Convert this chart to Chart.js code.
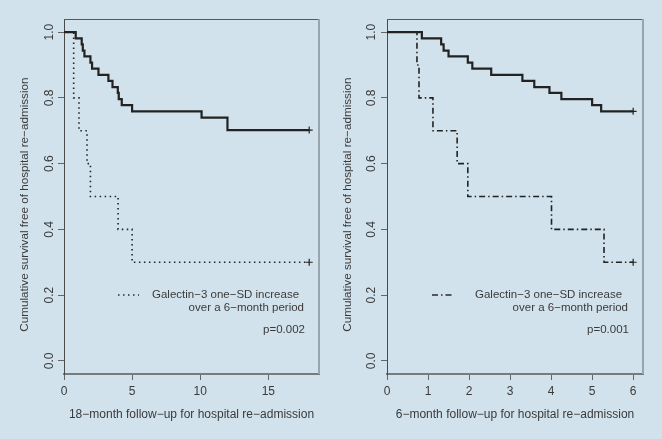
<!DOCTYPE html>
<html>
<head>
<meta charset="utf-8">
<script src="https://cdn.jsdelivr.net/npm/chart.js@4.4.1/dist/chart.umd.min.js"></script>
<style>
  html, body { margin: 0; padding: 0; background: #d2e2ec; }
  #wrap { position: relative; width: 662px; height: 439px; }
  .panel { position: absolute; top: 0; width: 331px; height: 439px; }
</style>
</head>
<body>
<div id="wrap">
  <div class="panel" style="left:0"><canvas id="left" width="331" height="439"></canvas></div>
  <div class="panel" style="left:331px"><canvas id="right" width="331" height="439"></canvas></div>
</div>
<script>
// left panel: 18-month follow-up
const longTimesRef = [0, 0.86, 1.3, 1.38, 1.5, 1.94, 2.06, 2.53, 3.26, 3.56, 3.95, 4.02, 4.24, 5.0, 10.1, 12.0, 18];
const longSurvRef  = [1, 0.981, 0.963, 0.944, 0.926, 0.907, 0.889, 0.870, 0.852, 0.833, 0.815, 0.796, 0.778, 0.759, 0.740, 0.702, 0.702];
const longTimesInc = [0, 0.71, 1.1, 1.69, 1.94, 3.97, 5.0, 18];
const longSurvInc  = [1, 0.8, 0.7, 0.6, 0.5, 0.4, 0.3, 0.3];
const longXTicks = [0, 5, 10, 15];

// right panel: 6-month follow-up
const shortTimesRef = [0, 0.85, 1.32, 1.38, 1.5, 1.97, 2.08, 2.54, 3.30, 3.59, 3.96, 4.25, 5.0, 5.22, 6];
const shortSurvRef  = [1, 0.981, 0.963, 0.944, 0.926, 0.907, 0.889, 0.870, 0.852, 0.833, 0.815, 0.796, 0.778, 0.759, 0.759];
const shortTimesInc = [0, 0.73, 0.78, 1.12, 1.71, 1.97, 4.01, 5.29, 6];
const shortSurvInc  = [1, 0.9, 0.8, 0.7, 0.6, 0.5, 0.4, 0.3, 0.3];
const shortXTicks = [0, 1, 2, 3, 4, 5, 6];

const yTicks = [0, 0.2, 0.4, 0.6, 0.8, 1.0];
// trailing nbsp's push the rotated title a bit lower, like the original
const yTitle = 'Cumulative survival free of hospital re\u2212admission' + '\u00a0'.repeat(5);
const legendLine1 = 'Galectin\u22123 one\u2212SD increase';
const legendLine2 = 'over a 6\u2212month period';

const txt = '#3a3a3a';
const fontFam = '"Liberation Sans", Arial, sans-serif';

const kmLegend = {
    id: 'kmLegend',
    afterDraw(chart, args, o) {
        const ctx = chart.ctx;
        const a = chart.chartArea;
        ctx.save();
        // box: top and right edges
        ctx.strokeStyle = '#4f5a62';
        ctx.lineWidth = 1;
        ctx.beginPath();
        ctx.moveTo(a.left, a.top + 0.5);
        ctx.lineTo(a.right, a.top + 0.5);
        ctx.stroke();
        ctx.strokeStyle = '#98a5ae';
        ctx.lineWidth = 2;
        ctx.beginPath();
        ctx.moveTo(a.right, a.top);
        ctx.lineTo(a.right, a.bottom);
        ctx.stroke();

        // legend sample + text
        ctx.strokeStyle = '#2a2a2a';
        ctx.lineWidth = 1.5;
        ctx.setLineDash(o.dash);
        ctx.beginPath();
        ctx.moveTo(a.left + o.sampleX, 295);
        ctx.lineTo(a.left + o.sampleX + 21, 295);
        ctx.stroke();
        ctx.setLineDash([]);
        ctx.fillStyle = txt;
        ctx.font = '11.5px ' + fontFam;
        ctx.textBaseline = 'middle';
        ctx.textAlign = 'left';
        ctx.fillText(legendLine1, a.left + o.textX, 294.5);
        ctx.textAlign = 'right';
        ctx.fillText(legendLine2, a.right - 15, 308);
        ctx.fillText(o.pText, a.right - 14, 330);
        ctx.restore();
    }
};

function makeChart(id, c) {
    const pts = (t, s) => t.map((x, i) => ({ x: x, y: s[i] }));
    const censor = ctx => ctx.dataIndex === ctx.dataset.data.length - 1 ? 3.5 : 0;
    return new Chart(document.getElementById(id), {
        type: 'line',
        data: {
            datasets: [{
                data: pts(c.refT, c.refS),
                stepped: true,
                borderColor: '#222',
                borderWidth: 2.2,
                pointStyle: 'cross',
                pointRadius: censor,
                pointBorderWidth: 1.2,
                pointBorderColor: '#222'
            }, {
                data: pts(c.incT, c.incS),
                stepped: true,
                borderColor: '#222',
                borderWidth: 1.6,
                borderDash: c.dash,
                pointStyle: 'cross',
                pointRadius: censor,
                pointBorderWidth: 1.2,
                pointBorderColor: '#222'
            }]
        },
        options: {
            responsive: false,
            animation: false,
            layout: { padding: { left: 0, right: c.padRight, top: 19, bottom: 0 } },
            plugins: {
                legend: { display: false },
                tooltip: { enabled: false },
                kmLegend: { dash: c.dash, sampleX: c.sampleX, textX: c.textX, pText: c.pText }
            },
            scales: {
                x: {
                    type: 'linear',
                    min: 0,
                    max: c.xMax,
                    afterBuildTicks: s => { s.ticks = c.xTicks.map(v => ({ value: v })); },
                    afterFit: s => { s.height = 65; },
                    ticks: { color: txt, font: { family: fontFam, size: 12 }, padding: 4, autoSkip: false, maxRotation: 0 },
                    grid: { drawOnChartArea: false, drawTicks: true, tickLength: 6, color: '#666' },
                    border: { color: '#767b7f', width: 2 },
                    title: { display: true, text: c.xTitle, color: txt, font: { family: fontFam, size: 12 }, padding: { top: 0, bottom: 17.5 } }
                },
                y: {
                    min: -0.04,
                    max: 1.04,
                    afterBuildTicks: s => { s.ticks = yTicks.map(v => ({ value: v })); },
                    afterFit: s => { s.width = c.yWidth; },
                    ticks: {
                        color: txt, font: { family: fontFam, size: 12 }, padding: c.tickPad,
                        minRotation: 90, maxRotation: 90, crossAlign: 'center', autoSkip: false,
                        callback: v => v.toFixed(1)
                    },
                    grid: { drawOnChartArea: false, drawTicks: true, tickLength: 6, color: '#666' },
                    border: { color: '#4a4a4a', width: 1 },
                    title: { display: true, text: yTitle, color: txt, font: { family: fontFam, size: 11.7 }, padding: { top: c.yTitlePad, bottom: 0 } }
                }
            }
        },
        plugins: [kmLegend]
    });
}

makeChart('left', {
    refT: longTimesRef, refS: longSurvRef, incT: longTimesInc, incS: longSurvInc,
    xTicks: longXTicks, xMax: 18.72, dash: [1.5, 3.5],
    xTitle: '18\u2212month follow\u2212up for hospital re\u2212admission',
    pText: 'p=0.002',
    yWidth: 64, padRight: 12, tickPad: 0, yTitlePad: 18,
    sampleX: 54, textX: 88
});

makeChart('right', {
    refT: shortTimesRef, refS: shortSurvRef, incT: shortTimesInc, incS: shortSurvInc,
    xTicks: shortXTicks, xMax: 6.24, dash: [6, 3, 1.5, 3],
    xTitle: '6\u2212month follow\u2212up for hospital re\u2212admission',
    pText: 'p=0.001',
    yWidth: 56, padRight: 19, tickPad: 1, yTitlePad: 9.5,
    sampleX: 45, textX: 88
});
</script>
</body>
</html>
